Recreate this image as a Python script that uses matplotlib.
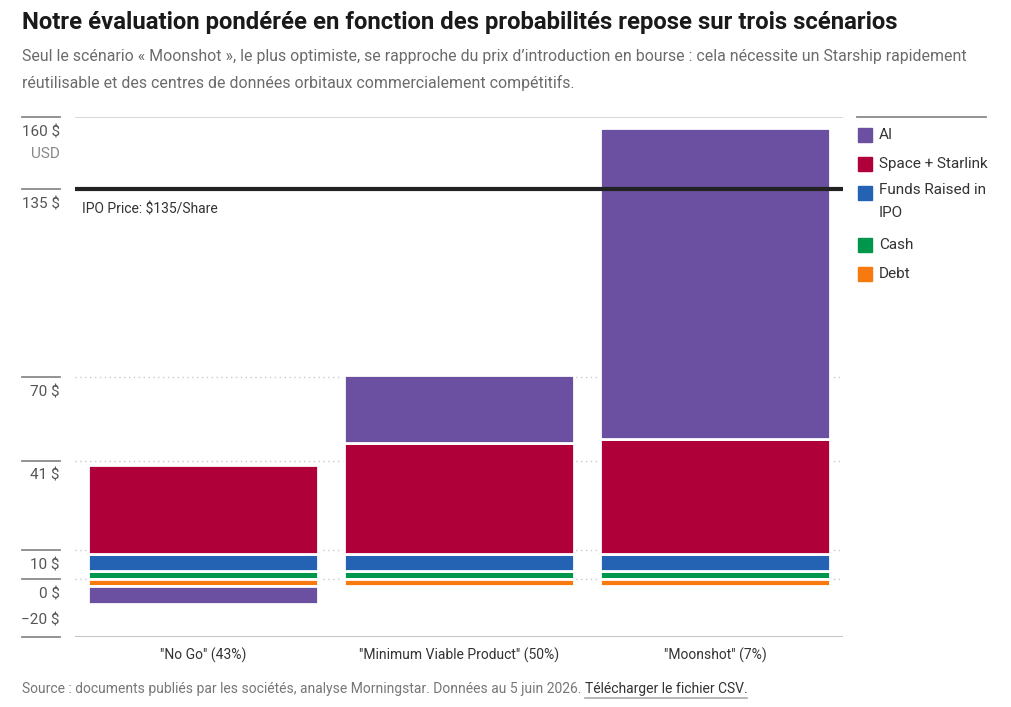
import matplotlib
matplotlib.use("Agg")
import numpy as np
import matplotlib.pyplot as plt
from matplotlib.patches import Rectangle
from matplotlib.lines import Line2D
from matplotlib.transforms import blended_transform_factory

plt.rcParams['font.family'] = ['Roboto', 'DejaVu Sans']

SCENARIOS = ['"No Go" (43%)', '"Minimum Viable Product" (50%)', '"Moonshot" (7%)']
CASH = [2.7, 2.7, 2.7]
FUNDS = [6.2, 6.2, 6.2]
SPACE = [30.8, 38.2, 39.8]
DEBT = [-2.5, -2.5, -2.5]
AI = [-6.2, 23.5, 107.5]
IPO_PRICE = 135
Y_TICKS = [160, 135, 70, 41, 10, 0, -20]
Y_LABELS = ["160 $", "135 $", "70 $", "41 $", "10 $", "0 $", "\u221220 $"]
GRID_VALUES = [70, 41, 10, 0]

# stacking order (bottom up / zero down) and legend order
STACK = [("Cash", CASH, "#00964B"),
         ("Funds Raised in\nIPO", FUNDS, "#2463B4"),
         ("Space + Starlink", SPACE, "#B0003A"),
         ("Debt", DEBT, "#F8790E"),
         ("AI", AI, "#6B4FA0")]
LEGEND_ORDER = ["AI", "Space + Starlink", "Funds Raised in\nIPO", "Cash", "Debt"]

W, H = 1012, 707
fig = plt.figure(figsize=(W / 100, H / 100), dpi=100)
ax = fig.add_axes([75 / W, 1 - 637 / H, 768 / W, 520 / H])

x = np.arange(len(SCENARIOS))
pos_base = np.zeros(len(x))
neg_base = np.zeros(len(x))
for name, vals, col in STACK:
    vals = np.array(vals)
    bottom = np.where(vals >= 0, pos_base, neg_base)
    ax.bar(x, vals, width=0.9, bottom=bottom, color=col, edgecolor="white", linewidth=2, zorder=3)
    pos_base += np.where(vals >= 0, vals, 0)
    neg_base += np.where(vals < 0, vals, 0)

for g in GRID_VALUES:
    ax.axhline(g, color="#c8c8c8", lw=1, ls=(0, (1, 2.5)), zorder=1)
ax.axhline(160, color="#cfcfcf", lw=1.2, zorder=1)
ax.axhline(-20, color="#bdbdbd", lw=2, zorder=1)
ax.axhline(IPO_PRICE, color="#222222", lw=3, zorder=4)
ax.annotate("IPO Price: $135/Share", xy=(0.009, IPO_PRICE),
            xycoords=blended_transform_factory(ax.transAxes, ax.transData),
            xytext=(0, -20), textcoords="offset pixels",
            ha="left", va="center", fontsize=10, color="#333333", zorder=5)

ax.set_xlim(-0.5, 2.5)
ax.set_ylim(-20, 160)
for s in ax.spines.values():
    s.set_visible(False)
ax.set_yticks([])
ax.set_xticks(x)
ax.set_xticklabels(SCENARIOS, fontsize=10, color="#333333")
ax.tick_params(axis="x", length=0, pad=8)

# y tick labels with short lines on the left
tr = blended_transform_factory(fig.transFigure, ax.transData)
for v, lab in zip(Y_TICKS, Y_LABELS):
    ax.add_line(Line2D([22 / W, 60 / W], [v, v], transform=tr, color="#8a8a8a", lw=1.3, clip_on=False))
    if v == -20:
        ax.annotate(lab, xy=(60 / W, v), xycoords=tr, xytext=(0, 17), textcoords="offset pixels",
                    ha="right", va="center", fontsize=11, color="#555555")
    else:
        ax.annotate(lab, xy=(60 / W, v), xycoords=tr, xytext=(0, -15), textcoords="offset pixels",
                    ha="right", va="center", fontsize=11, color="#555555")
ax.annotate("USD", xy=(60 / W, 160), xycoords=tr, xytext=(0, -37), textcoords="offset pixels",
            ha="right", va="center", fontsize=11, color="#888888")

# legend
fig.add_artist(Line2D([857 / W, 986 / W], [1 - 117 / H, 1 - 117 / H], color="#8a8a8a", lw=1.3))
colors = {name: col for name, vals, col in STACK}
leg_y = [135, 164, 193, 245, 274]
for name, yc in zip(LEGEND_ORDER, leg_y):
    fig.add_artist(Rectangle((858 / W, 1 - (yc + 7) / H), 14 / W, 14 / H, color=colors[name],
                             transform=fig.transFigure))
    if "\n" in name:
        fig.text(879 / W, 1 - (yc - 10) / H, name, ha="left", va="top", fontsize=11,
                 color="#333333", linespacing=1.8)
    else:
        fig.text(879 / W, 1 - yc / H, name, ha="left", va="center", fontsize=11, color="#333333")

fig.text(22 / W, 1 - 22 / H, "Notre évaluation pondérée en fonction des probabilités repose sur trois scénarios",
         ha="left", va="center", fontsize=17.2, fontweight="bold", color="#1a1a1a")
fig.text(22 / W, 1 - 49 / H,
         "Seul le scénario « Moonshot », le plus optimiste, se rapproche du prix d\u2019introduction en bourse : "
         "cela nécessite un Starship rapidement\nréutilisable et des centres de données orbitaux "
         "commercialement compétitifs.",
         ha="left", va="top", fontsize=11.4, color="#6b6b6b", linespacing=1.85)

src = fig.text(22 / W, 1 - 689 / H,
               "Source : documents publiés par les sociétés, analyse Morningstar. Données au 5 juin 2026. ",
               ha="left", va="center", fontsize=10, color="#777777")
fig.canvas.draw()
bb = src.get_window_extent()
link = fig.text(bb.x1 / W, 1 - 689 / H, "Télécharger le fichier CSV.", ha="left", va="center",
                fontsize=10, color="#333333")
fig.canvas.draw()
lb = link.get_window_extent()
fig.add_artist(Line2D([lb.x0 / W, lb.x1 / W], [(lb.y0 - 2) / H, (lb.y0 - 2) / H], color="#aaaaaa", lw=1.2))

fig.savefig("out.png", dpi=100)
